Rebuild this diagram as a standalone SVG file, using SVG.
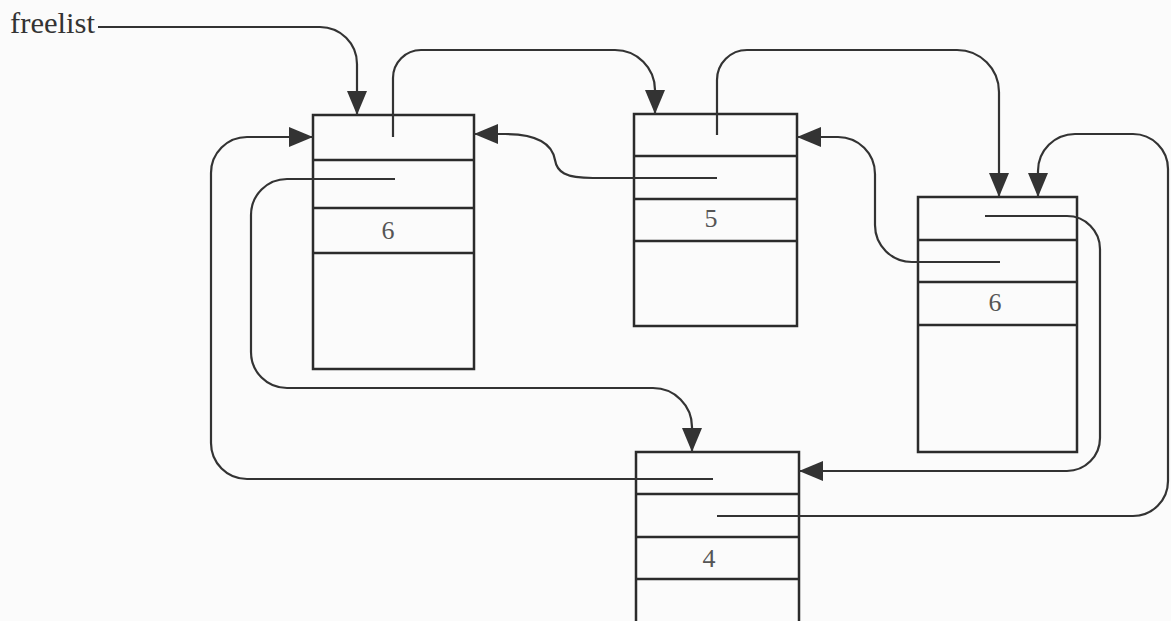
<svg xmlns="http://www.w3.org/2000/svg" width="1171" height="621" viewBox="0 0 1171 621">
<style>
.box{fill:none;stroke:#2b2b2b;stroke-width:2.5}
.div{stroke:#2b2b2b;stroke-width:2.5}
.num{font-family:"Liberation Serif",serif;font-size:26px;fill:#555;text-anchor:middle}
.lbl{font-family:"Liberation Serif",serif;font-size:29px;fill:#333}
.con{fill:none;stroke:#333;stroke-width:2.2}
</style>
<defs>
<marker id="ah" markerUnits="userSpaceOnUse" markerWidth="24" markerHeight="20" refX="24" refY="10" orient="auto">
<path d="M0,0 L24,10 L0,20 Z" fill="#333"/>
</marker>
</defs>
<rect x="0" y="0" width="1171" height="621" fill="#fbfbfb"/>
<g id="freelist">
<text class="lbl" x="10" y="33" textLength="85" lengthAdjust="spacingAndGlyphs">freelist</text>
</g>
<g id="nodeA">
<rect class="box" x="313" y="115" width="161" height="254"/>
<line class="div" x1="313" y1="160" x2="474" y2="160"/>
<line class="div" x1="313" y1="208" x2="474" y2="208"/>
<line class="div" x1="313" y1="253" x2="474" y2="253"/>
<text class="num" x="388" y="239">6</text>
</g>
<g id="nodeB">
<rect class="box" x="634" y="114" width="163" height="212"/>
<line class="div" x1="634" y1="156" x2="797" y2="156"/>
<line class="div" x1="634" y1="199" x2="797" y2="199"/>
<line class="div" x1="634" y1="241" x2="797" y2="241"/>
<text class="num" x="711" y="227">5</text>
</g>
<g id="nodeC">
<rect class="box" x="918" y="197" width="159" height="255"/>
<line class="div" x1="918" y1="240" x2="1077" y2="240"/>
<line class="div" x1="918" y1="282" x2="1077" y2="282"/>
<line class="div" x1="918" y1="325" x2="1077" y2="325"/>
<text class="num" x="995" y="311">6</text>
</g>
<g id="nodeD">
<rect class="box" x="636" y="452" width="163" height="190"/>
<line class="div" x1="636" y1="494" x2="799" y2="494"/>
<line class="div" x1="636" y1="537" x2="799" y2="537"/>
<line class="div" x1="636" y1="579" x2="799" y2="579"/>
<text class="num" x="709" y="567">4</text>
</g>
<g id="connectors">
<path class="con" marker-end="url(#ah)" d="M98,27 H320 A37,37 0 0 1 357,64 V115"/>
<path class="con" marker-end="url(#ah)" d="M393,137 V78 A28,28 0 0 1 421,50 H615 A40,40 0 0 1 655,90 V114"/>
<path class="con" marker-end="url(#ah)" d="M717,135 V80 A30,30 0 0 1 747,50 H957 A42,42 0 0 1 999,92 V197"/>
<path class="con" marker-end="url(#ah)" d="M717,178 H593 C565,178 557,172 555,160 C552,142 535,134 505,134 H474"/>
<path class="con" marker-end="url(#ah)" d="M1000,262 H912 A37,37 0 0 1 875,225 V174 A37,37 0 0 0 838,137 H797"/>
<path class="con" marker-end="url(#ah)" d="M713,479 H247 A36,36 0 0 1 211,443 V173 A36,36 0 0 1 247,137 H313"/>
<path class="con" marker-end="url(#ah)" d="M395,179 H287 A36,36 0 0 0 251,215 V352 A36,36 0 0 0 287,388 H653 A39,39 0 0 1 692,427 V452"/>
<path class="con" marker-end="url(#ah)" d="M985,216 H1067 A33,33 0 0 1 1100,249 V438 A33,33 0 0 1 1067,471 H799"/>
<path class="con" marker-end="url(#ah)" d="M717,516 H1133 A35,35 0 0 0 1168,481 V169 A35,35 0 0 0 1133,134 H1075 A37,37 0 0 0 1038,171 V197"/>
</g>
</svg>
